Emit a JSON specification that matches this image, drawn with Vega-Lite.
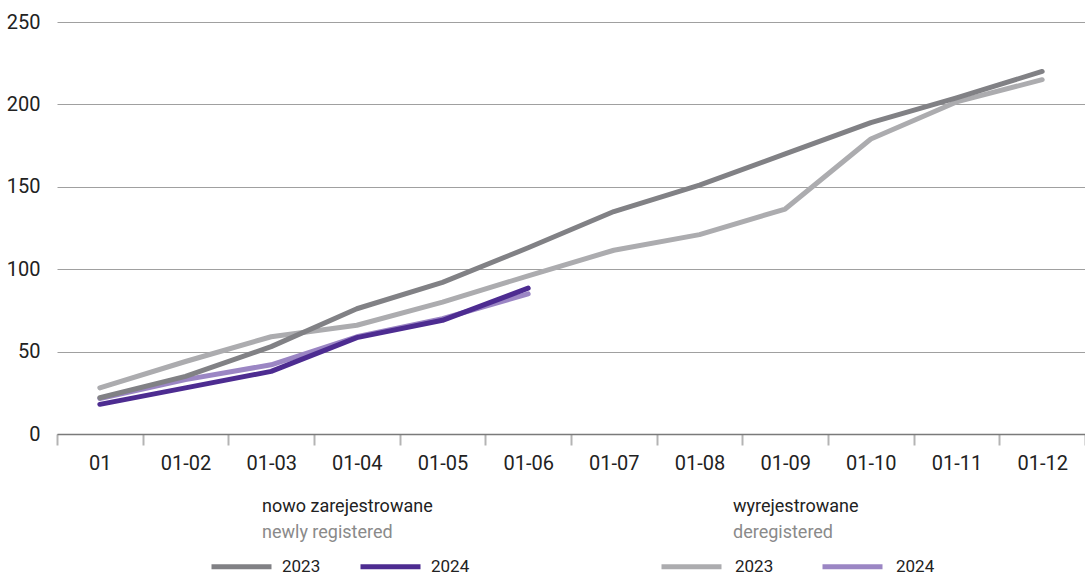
{
  "$schema": "https://vega.github.io/schema/vega-lite/v6.json",
  "width": 1028,
  "height": 412,
  "autosize": {"type": "none"},
  "padding": {"left": 57, "top": 22, "right": 0, "bottom": 141},
  "background": "white",
  "config": {"view": {"stroke": null}, "font": "Roboto"},
  "datasets": {
    "nowe": [
      {"m": "01", "year": "2023", "en": "newly registered", "v": 22},
      {"m": "01-02", "year": "2023", "en": "newly registered", "v": 35},
      {"m": "01-03", "year": "2023", "en": "newly registered", "v": 53},
      {"m": "01-04", "year": "2023", "en": "newly registered", "v": 76},
      {"m": "01-05", "year": "2023", "en": "newly registered", "v": 92},
      {"m": "01-06", "year": "2023", "en": "newly registered", "v": 113},
      {"m": "01-07", "year": "2023", "en": "newly registered", "v": 135},
      {"m": "01-08", "year": "2023", "en": "newly registered", "v": 151},
      {"m": "01-09", "year": "2023", "en": "newly registered", "v": 170},
      {"m": "01-10", "year": "2023", "en": "newly registered", "v": 189},
      {"m": "01-11", "year": "2023", "en": "newly registered", "v": 204},
      {"m": "01-12", "year": "2023", "en": "newly registered", "v": 220},
      {"m": "01", "year": "2024", "en": "newly registered", "v": 18},
      {"m": "01-02", "year": "2024", "en": "newly registered", "v": 28},
      {"m": "01-03", "year": "2024", "en": "newly registered", "v": 38},
      {"m": "01-04", "year": "2024", "en": "newly registered", "v": 58.5},
      {"m": "01-05", "year": "2024", "en": "newly registered", "v": 69},
      {"m": "01-06", "year": "2024", "en": "newly registered", "v": 88.5}
    ],
    "wyrej": [
      {"m": "01", "year": "2023", "en": "deregistered", "v": 28},
      {"m": "01-02", "year": "2023", "en": "deregistered", "v": 44},
      {"m": "01-03", "year": "2023", "en": "deregistered", "v": 59},
      {"m": "01-04", "year": "2023", "en": "deregistered", "v": 66},
      {"m": "01-05", "year": "2023", "en": "deregistered", "v": 80},
      {"m": "01-06", "year": "2023", "en": "deregistered", "v": 96},
      {"m": "01-07", "year": "2023", "en": "deregistered", "v": 111.5},
      {"m": "01-08", "year": "2023", "en": "deregistered", "v": 121},
      {"m": "01-09", "year": "2023", "en": "deregistered", "v": 136.5},
      {"m": "01-10", "year": "2023", "en": "deregistered", "v": 179},
      {"m": "01-11", "year": "2023", "en": "deregistered", "v": 201.5},
      {"m": "01-12", "year": "2023", "en": "deregistered", "v": 215},
      {"m": "01", "year": "2024", "en": "deregistered", "v": 21.5},
      {"m": "01-02", "year": "2024", "en": "deregistered", "v": 33},
      {"m": "01-03", "year": "2024", "en": "deregistered", "v": 42},
      {"m": "01-04", "year": "2024", "en": "deregistered", "v": 59},
      {"m": "01-05", "year": "2024", "en": "deregistered", "v": 70},
      {"m": "01-06", "year": "2024", "en": "deregistered", "v": 85}
    ]
  },
  "encoding": {
    "x": {
      "field": "m",
      "type": "ordinal",
      "sort": ["01", "01-02", "01-03", "01-04", "01-05", "01-06", "01-07", "01-08", "01-09", "01-10", "01-11", "01-12"],
      "bandPosition": 0.5,
      "scale": {"type": "band", "paddingInner": 0, "paddingOuter": 0},
      "axis": {
        "title": null,
        "labelAngle": 0,
        "labelFont": "Roboto",
        "labelFontSize": 20,
        "labelColor": "#222222",
        "labelPadding": 8,
        "tickBand": "extent",
        "tickSize": 11,
        "tickWidth": 2,
        "tickColor": "#b4b4b4",
        "domainColor": "#7a7a7a",
        "domainWidth": 1.5,
        "grid": false
      }
    },
    "y": {
      "field": "v",
      "type": "quantitative",
      "scale": {"domain": [0, 250], "nice": false},
      "axis": {
        "title": null,
        "values": [0, 50, 100, 150, 200, 250],
        "labelFont": "Roboto",
        "labelFontSize": 20,
        "labelColor": "#222222",
        "labelPadding": 17,
        "domain": false,
        "ticks": false,
        "grid": true,
        "gridColor": "#a0a0a0",
        "gridWidth": 1
      }
    }
  },
  "layer": [
    {
      "data": {"name": "wyrej"},
      "mark": {"type": "line", "strokeWidth": 5, "strokeCap": "round", "strokeJoin": "round"},
      "encoding": {
        "color": {
          "field": "year",
          "type": "nominal",
          "scale": {"domain": ["2023", "2024"], "range": ["#acacaf", "#9b86c4"]},
          "legend": {
            "orient": "none", "legendX": 602, "legendY": 512, "direction": "horizontal",
            "title": null, "symbolType": "stroke", "symbolSize": 3600, "symbolStrokeWidth": 5,
            "labelFont": "Roboto", "labelFontSize": 17, "labelColor": "#222222", "labelOffset": 11,
            "columnPadding": 38, "padding": 0
          }
        },
        "opacity": {
          "field": "en",
          "type": "nominal",
          "scale": {"domain": ["deregistered"], "range": [1]},
          "legend": {
            "orient": "none", "legendX": 676, "legendY": 476,
            "title": "wyrejestrowane", "titleFont": "Roboto", "titleFontSize": 18, "titleFontWeight": "normal",
            "titleColor": "#222222", "titlePadding": 8,
            "labelFont": "Roboto", "labelFontSize": 18, "labelColor": "#8a8a8a", "labelOffset": -18, "labelAlign": "left",
            "symbolSize": 0, "symbolStrokeWidth": 0, "padding": 0
          }
        }
      }
    },
    {
      "data": {"name": "nowe"},
      "mark": {"type": "line", "strokeWidth": 5, "strokeCap": "round", "strokeJoin": "round"},
      "encoding": {
        "color": {
          "field": "year",
          "type": "nominal",
          "scale": {"domain": ["2023", "2024"], "range": ["#818185", "#4d2c91"]},
          "legend": {
            "orient": "none", "legendX": 152, "legendY": 512, "direction": "horizontal",
            "title": null, "symbolType": "stroke", "symbolSize": 3600, "symbolStrokeWidth": 5,
            "labelFont": "Roboto", "labelFontSize": 17, "labelColor": "#222222", "labelOffset": 8,
            "columnPadding": 29, "padding": 0
          }
        },
        "opacity": {
          "field": "en",
          "type": "nominal",
          "scale": {"domain": ["newly registered"], "range": [1]},
          "legend": {
            "orient": "none", "legendX": 205, "legendY": 476,
            "title": "nowo zarejestrowane", "titleFont": "Roboto", "titleFontSize": 18, "titleFontWeight": "normal",
            "titleColor": "#222222", "titlePadding": 8,
            "labelFont": "Roboto", "labelFontSize": 18, "labelColor": "#8a8a8a", "labelOffset": -18, "labelAlign": "left",
            "symbolSize": 0, "symbolStrokeWidth": 0, "padding": 0
          }
        }
      }
    }
  ],
  "resolve": {"scale": {"color": "independent", "opacity": "independent"}}
}
